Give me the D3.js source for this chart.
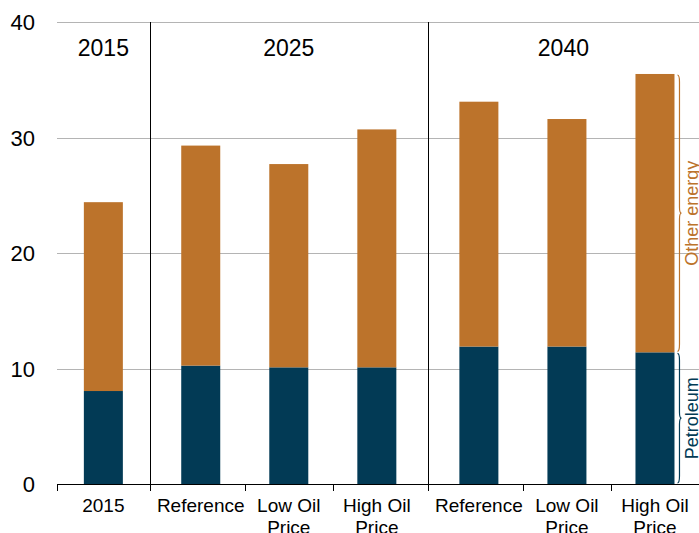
<!doctype html>
<html lang="en">
<head>
    <meta charset="UTF-8">
    <title>Petroleum and other energy</title>
    <style>
        html, body {
            margin: 0;
            padding: 0;
            background: #fff;
        }
        svg text {
            font-family: "Liberation Sans", Arial, sans-serif;
            fill: #000;
        }
    </style>
</head>
<body>
<svg id="chart" width="699" height="533"></svg>

<script src="https://cdn.jsdelivr.net/npm/d3@7"></script>
<script>
  // categories, grouped by year
  const groups = ['2015', '2025', '2040']
  const groupOf = ['2015', '2025', '2025', '2025', '2040', '2040', '2040']
  const cases = ['2015', 'Reference', 'Low Oil Price', 'High Oil Price', 'Reference', 'Low Oil Price', 'High Oil Price']

  // values
  const petroleum = [8.05, 10.25, 10.1, 10.1, 11.9, 11.9, 11.4]
  const otherEnergy = [16.35, 19.05, 17.6, 20.6, 21.2, 19.7, 24.1]

  const yTicks = [0, 10, 20, 30, 40]
  const seriesNames = ['Petroleum', 'Other energy']
  const colors = ['#023a55', '#bc732b']

  const ids = cases.map((c, i) => i)
  const rows = ids.map(i => ({ id: i, petroleum: petroleum[i], other: otherEnergy[i] }))

  const svg = d3.select('#chart')

  // outer scale: one slot per category, groups take their members' slots
  const slot = d3.scaleLinear().domain([0, ids.length]).range([57, 706])

  let start = 0
  const spans = groups.map(g => {
    const members = ids.filter(i => groupOf[i] === g)
    const s = { name: g, members, x0: slot(start), x1: slot(start + members.length) }
    start += members.length
    s.inner = d3.scaleBand()
      .domain(members)
      .range([s.x0, s.x1])
      .paddingInner(0.557)
      .paddingOuter(0.358)
    return s
  })

  const spanOf = i => spans.find(s => s.members.includes(i))
  const refSpan = spans.find(s => s.members.length > 1)
  const barW = refSpan.inner.bandwidth()
  const cx = i => { const sc = spanOf(i).inner; return sc(i) + sc.bandwidth() / 2 }

  const y = d3.scaleLinear()
    .domain([0, 40])
    .range([484, 22])

  // gridlines
  svg.append('g')
    .selectAll('line')
    .data(yTicks.filter(d => d > 0))
    .join('line')
    .attr('x1', 57)
    .attr('x2', 699)
    .attr('y1', d => Math.round(y(d)) + 0.5)
    .attr('y2', d => Math.round(y(d)) + 0.5)
    .attr('stroke', '#b4b4b4')
    .attr('stroke-width', 1)

  // y labels
  svg.append('g')
    .selectAll('text')
    .data(yTicks)
    .join('text')
    .attr('x', 35)
    .attr('y', d => y(d) + 8)
    .attr('text-anchor', 'end')
    .attr('font-size', 22)
    .text(d => d)

  // stacked bars
  const stack = d3.stack().keys(['petroleum', 'other'])
  const layers = stack(rows)

  svg.append('g')
    .selectAll('g')
    .data(layers)
    .join('g')
    .attr('fill', (d, i) => colors[i])
    .selectAll('rect')
    .data(d => d)
    .join('rect')
    .attr('x', d => cx(d.data.id) - barW / 2)
    .attr('width', barW)
    .attr('y', d => y(d[1]))
    .attr('height', d => y(d[0]) - y(d[1]))

  // bottom axis line and ticks: group edges plus midpoints between bars
  const tickXs = []
  spans.forEach(s => {
    tickXs.push(s.x0)
    for (let k = 1; k < s.members.length; k++) {
      tickXs.push((cx(s.members[k - 1]) + cx(s.members[k])) / 2)
    }
  })

  const axis = svg.append('g').attr('stroke', '#000').attr('stroke-width', 1)
  axis.append('line')
    .attr('x1', 57).attr('x2', 699)
    .attr('y1', y(0) + 0.5).attr('y2', y(0) + 0.5)
  axis.selectAll('.tick')
    .data(tickXs)
    .join('line')
    .attr('class', 'tick')
    .attr('x1', d => Math.round(d) + 0.5)
    .attr('x2', d => Math.round(d) + 0.5)
    .attr('y1', y(0))
    .attr('y2', y(0) + 7)

  // group dividers and group labels
  svg.append('g')
    .selectAll('line')
    .data(spans.slice(1))
    .join('line')
    .attr('x1', d => Math.round(d.x0) + 0.5)
    .attr('x2', d => Math.round(d.x0) + 0.5)
    .attr('y1', y(40))
    .attr('y2', y(0) + 7)
    .attr('stroke', '#000')

  svg.append('g')
    .selectAll('text')
    .data(spans)
    .join('text')
    .attr('x', d => (d.x0 + Math.min(d.x1, 699)) / 2)
    .attr('y', 56)
    .attr('text-anchor', 'middle')
    .attr('font-size', 23)
    .text(d => d.name)

  // category labels (wrapped)
  const catLabels = svg.append('g')
    .selectAll('text')
    .data(ids)
    .join('text')
    .attr('x', d => cx(d))
    .attr('y', 512)
    .attr('text-anchor', 'middle')
    .attr('font-size', 19)

  catLabels.each(function (d) {
    const words = cases[d].split(' ')
    const lines = words.length > 2 ? [words.slice(0, 2).join(' '), words.slice(2).join(' ')] : [cases[d]]
    d3.select(this).selectAll('tspan')
      .data(lines)
      .join('tspan')
      .attr('x', cx(d))
      .attr('dy', (l, i) => i === 0 ? 0 : 22)
      .text(l => l)
  })

  // braces beside the last bar
  const last = rows[rows.length - 1]
  const bx = cx(last.id) + barW / 2 + 3
  const braces = [
    { name: seriesNames[0], from: 0, to: last.petroleum, color: colors[0] },
    { name: seriesNames[1], from: last.petroleum, to: last.petroleum + last.other, color: colors[1] }
  ]

  function bracePath(x0, yTop, yBot) {
    const w = 4
    const mid = (yTop + yBot) / 2
    return `M${x0},${yTop + 1}` +
      `Q${x0 + w / 2},${yTop + 1} ${x0 + w / 2},${yTop + 8}` +
      `L${x0 + w / 2},${mid - 6}` +
      `Q${x0 + w / 2},${mid} ${x0 + w},${mid}` +
      `Q${x0 + w / 2},${mid} ${x0 + w / 2},${mid + 6}` +
      `L${x0 + w / 2},${yBot - 8}` +
      `Q${x0 + w / 2},${yBot - 1} ${x0},${yBot - 1}`
  }

  const bg = svg.append('g')
  bg.selectAll('path')
    .data(braces)
    .join('path')
    .attr('d', d => bracePath(bx, y(d.to), y(d.from)))
    .attr('fill', 'none')
    .attr('stroke', d => d.color)
    .attr('stroke-width', 1.2)

  bg.selectAll('text')
    .data(braces)
    .join('text')
    .attr('transform', d => `translate(${bx + 21},${(y(d.to) + y(d.from)) / 2}) rotate(-90)`)
    .attr('text-anchor', 'middle')
    .attr('font-size', 18)
    .style('fill', d => d.color)
    .text(d => d.name)
</script>
</body>
</html>
